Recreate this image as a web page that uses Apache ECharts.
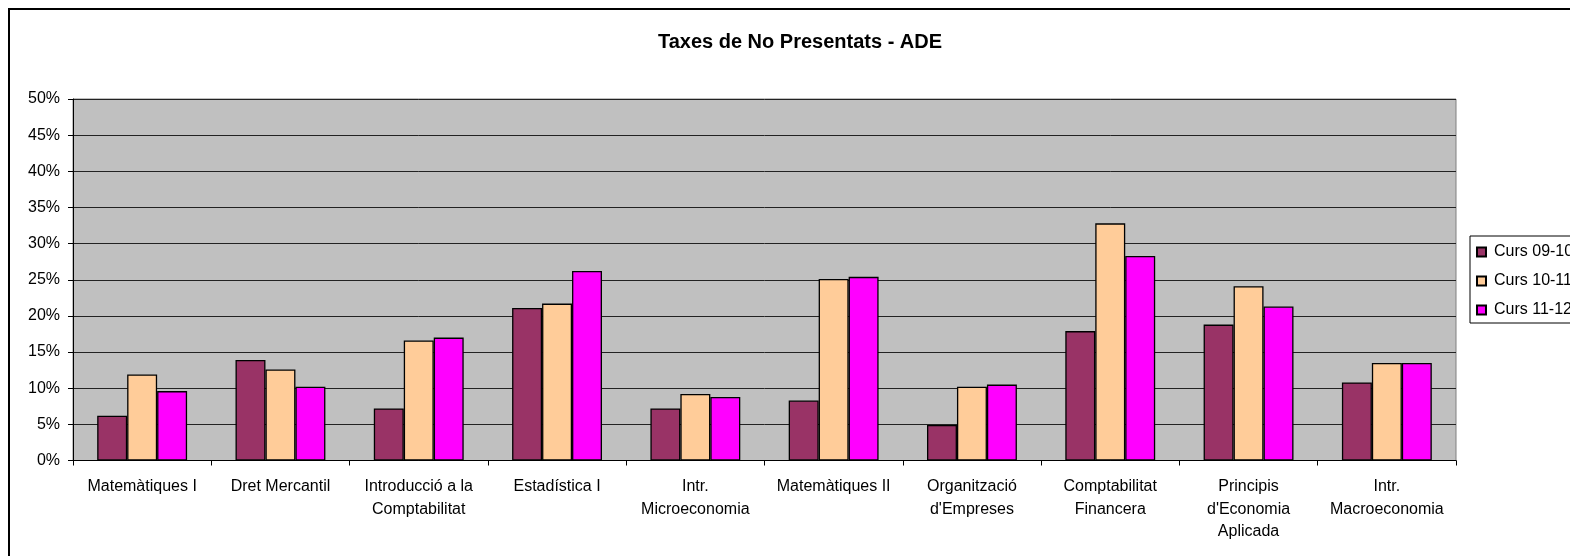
<!DOCTYPE html>
<html>
<head>
<meta charset="utf-8">
<script src="https://cdn.jsdelivr.net/npm/echarts@6/dist/echarts.min.js"></script>
<style>html,body{margin:0;padding:0;background:#fff}#c{width:1570px;height:556px}</style>
</head>
<body>
<div id="c"></div>
<script>
const categories = ["Matemàtiques I", "Dret Mercantil", "Introducció a la\nComptabilitat", "Estadística I", "Intr.\nMicroeconomia", "Matemàtiques II", "Organització\nd'Empreses", "Comptabilitat\nFinancera", "Principis\nd'Economia\nAplicada", "Intr.\nMacroeconomia"];
const seriesNames = ["Curs 09-10", "Curs 10-11", "Curs 11-12"];
const curs0910 = [6.2, 13.9, 7.2, 21.1, 7.2, 8.3, 4.9, 17.9, 18.8, 10.8];
const curs1011 = [11.9, 12.6, 16.6, 21.7, 9.2, 25.1, 10.2, 32.8, 24.1, 13.5];
const curs1112 = [9.6, 10.2, 17.0, 26.2, 8.8, 25.4, 10.5, 28.3, 21.3, 13.5];
const yTicks = { min: 0, max: 50, interval: 5 };

const colors = ['#993366', '#FFCC99', '#FF00FF'];
const font = "'Liberation Sans', Arial, sans-serif";
const chart = echarts.init(document.getElementById('c'), null, { renderer: 'canvas' });
const allData = [curs0910, curs1011, curs1112];
chart.setOption({
  animation: false,
  backgroundColor: '#ffffff',
  title: {
    text: 'Taxes de No Presentats - ADE',
    left: 795, top: 27, textAlign: 'center',
    textStyle: { fontFamily: font, fontWeight: 'bold', fontSize: 20, color: '#000' }
  },
  graphic: [{
    type: 'rect', silent: true, z: -1,
    shape: { x: 9, y: 9, width: 2000, height: 1000 },
    style: { fill: 'none', stroke: '#000', lineWidth: 2 }
  }],
  legend: {
    orient: 'vertical', left: 1470, top: 236,
    padding: [8, 6, 5, 6], itemGap: 13,
    itemWidth: 9, itemHeight: 9,
    backgroundColor: '#fff', borderColor: '#000', borderWidth: 1, borderRadius: 0,
    icon: 'rect',
    textStyle: { fontFamily: font, fontSize: 16, color: '#000', padding: [0, 0, 0, 3] },
    data: seriesNames
  },
  grid: {
    left: 73, right: 114, top: 99, bottom: 95.5,
    show: true, backgroundColor: '#C0C0C0', borderColor: '#808080', borderWidth: 1,
    containLabel: false
  },
  xAxis: {
    type: 'category', data: categories,
    axisLine: { lineStyle: { color: '#000', width: 1 } },
    axisTick: { show: true, length: 5, lineStyle: { color: '#000' } },
    axisLabel: { interval: 0, margin: 15, fontFamily: font, fontSize: 16, lineHeight: 22.5, color: '#000' }
  },
  yAxis: {
    type: 'value', min: yTicks.min, max: yTicks.max, interval: yTicks.interval,
    axisLine: { show: true, lineStyle: { color: '#000', width: 1 } },
    axisTick: { show: true, length: 5, lineStyle: { color: '#000' } },
    axisLabel: { formatter: '{value}%', margin: 13, fontFamily: font, fontSize: 16, color: '#000' },
    splitLine: { show: true, lineStyle: { color: '#222', width: 1 } }
  },
  series: seriesNames.map((n, i) => ({
    name: n, type: 'bar', data: allData[i],
    barGap: '0%', barCategoryGap: '35%',
    itemStyle: { color: colors[i], borderColor: '#000', borderWidth: 1.3 }
  }))
});
</script>
</body>
</html>
